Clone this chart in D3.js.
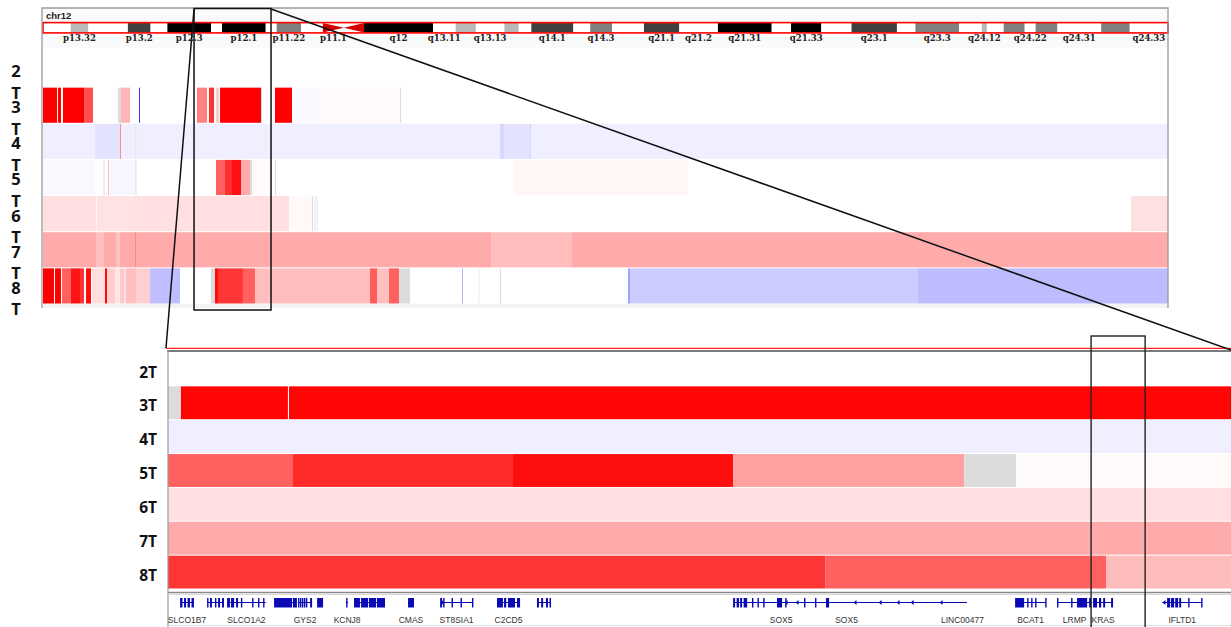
<!DOCTYPE html>
<html>
<head>
<meta charset="utf-8">
<script src="https://cdn.jsdelivr.net/npm/d3@7"></script>
<style>
  html, body { margin: 0; padding: 0; background: #ffffff; }
  svg { display: block; }
</style>
</head>
<body>
<svg id="chart" width="1231" height="627"></svg>
<script>
// ---- samples ----
const samples = ["2T", "3T", "4T", "5T", "6T", "7T", "8T"];

// ---- chromosome 12 cytobands (Mb) ----
const chromName = "chr12";
const chromLength = 133.85;
const bandNames  = ["p13.33","p13.32","p13.31","p13.2","p13.1","p12.3","p12.2","p12.1","p11.23","p11.22","p11.21","p11.1","q11","q12","q13.11","q13.12","q13.13","q13.2","q13.3","q14.1","q14.2","q14.3","q15","q21.1","q21.2","q21.31","q21.32","q21.33","q22","q23.1","q23.2","q23.3","q24.11","q24.12","q24.13","q24.21","q24.22","q24.23","q24.31","q24.32","q24.33"];
const bandStarts = [0,3.3,5.4,10.1,12.8,14.8,20.0,21.3,26.5,27.8,30.7,33.3,35.8,38.2,46.4,49.1,51.5,54.9,56.6,58.1,63.1,65.1,67.7,71.5,75.7,80.3,86.7,89.0,92.6,96.2,101.6,103.8,109.0,111.7,112.3,114.3,116.8,118.1,120.7,125.9,129.3];
const bandStains = ["gneg","gpos25","gneg","gpos75","gneg","gpos100","gneg","gpos100","gneg","gpos50","gneg","acen","acen","gpos100","gneg","gpos25","gneg","gpos25","gneg","gpos75","gneg","gpos50","gneg","gpos75","gneg","gpos100","gneg","gpos100","gneg","gpos75","gneg","gpos50","gneg","gpos25","gneg","gpos50","gneg","gpos50","gneg","gpos50","gneg"];
const bandLabelsShown = ["p13.32","p13.2","p12.3","p12.1","p11.22","p11.1","q12","q13.11","q13.13","q14.1","q14.3","q21.1","q21.2","q21.31","q21.33","q23.1","q23.3","q24.12","q24.22","q24.31","q24.33"];

// ---- copy-number segments, whole chromosome: [startMb, endMb, log2 ratio] (null = no call) ----
const chrSeg2T = [];
const chrSeg3T = [[0,1.67,1.0],[1.78,2.14,1.0],[2.38,4.88,1.0],[4.88,5.95,0.69],[8.92,9.28,null],[9.28,10.35,0.29],[11.42,11.54,-0.8],[18.32,19.51,0.5],[19.75,20.35,0.81],[20.58,20.94,0.2],[21.06,25.94,1.0],[25.94,26.06,null],[27.60,29.63,1.0],[29.63,32.96,-0.025],[32.96,42.48,0.015],[42.48,42.59,null]];
const chrSeg4T = [[0,6.19,-0.063],[6.19,9.16,-0.11],[9.16,9.28,0.45],[9.28,11.0,-0.063],[11.0,11.12,null],[11.12,54.37,-0.063],[54.37,54.85,-0.16],[54.85,57.94,-0.11],[57.94,58.06,-0.17],[58.06,133.85,-0.063]];
const chrSeg5T = [[0,6.19,-0.025],[7.14,7.38,-0.08],[7.73,7.85,0.3],[7.97,11.0,-0.035],[11.0,11.12,null],[20.58,21.65,0.62],[21.65,22.49,0.81],[22.49,23.56,0.94],[23.56,24.63,0.33],[24.63,24.87,null],[24.87,27.01,0.02],[27.60,27.72,null],[56.04,76.74,0.035]];
const chrSeg6T = [[0,6.31,0.125],[6.31,6.42,0.04],[6.42,11.0,0.115],[11.0,11.12,null],[11.12,29.27,0.125],[29.27,32.0,0.025],[32.0,32.12,null],[32.24,32.72,-0.05],[129.45,133.85,0.12]];
const chrSeg7T = [[0,6.31,0.33],[6.31,7.26,0.25],[7.26,8.69,0.33],[8.69,9.16,0.24],[9.16,10.95,0.33],[10.95,11.06,0.5],[11.06,53.30,0.33],[53.30,62.94,0.26],[62.94,133.85,0.33]];
const chrSeg8T = [[0,1.31,1.0],[1.43,2.14,1.0],[2.26,3.33,0.62],[3.33,4.40,0.92],[4.40,4.88,0.8],[5.12,5.71,0.95],[5.83,7.38,0.12],[7.38,7.61,1.0],[7.61,8.57,0.19],[8.57,9.16,0.1],[9.16,9.64,0.22],[9.64,9.88,0.12],[9.88,11.06,0.25],[11.06,12.73,0.19],[12.73,16.30,-0.25],[19.99,20.46,null],[20.46,20.82,0.95],[20.82,23.79,0.79],[23.79,25.22,0.62],[25.22,38.91,0.26],[38.91,39.74,0.64],[39.74,41.17,0.25],[41.17,42.36,0.62],[42.36,43.66,null],[49.85,49.97,-0.3],[51.75,51.99,0.05],[54.37,54.49,null],[69.60,69.84,-0.37],[69.84,104.10,-0.2],[104.10,133.85,-0.263]];

// ---- copy-number segments, zoomed locus (Mb) ----
const zoomRange = [21.115, 25.955];
const zoomSeg2T = [];
const zoomSeg3T = [[21.115,21.174,null],[21.174,21.661,0.98],[21.666,25.955,0.98]];
const zoomSeg4T = [[21.115,25.955,-0.063]];
const zoomSeg5T = [[21.115,21.684,0.62],[21.684,22.682,0.835],[22.682,23.688,0.945],[23.688,24.740,0.37],[24.740,24.977,null],[24.977,25.955,0.02]];
const zoomSeg6T = [[21.115,25.955,0.125]];
const zoomSeg7T = [[21.115,25.955,0.33]];
const zoomSeg8T = [[21.115,24.107,0.79],[24.107,25.386,0.62],[25.386,25.955,0.263]];

// ---- regions of interest (Mb) ----
const roiChrom = [17.97, 27.13];
const roiKras  = [25.318, 25.564];

// ---- RefSeq genes in the zoomed locus (Mb) ----
const geneNames  = ["SLCO1B7","SLCO1B1","SLCO1A2","RECQL","GYS2","LDHB","KCNJ8","ABCC9","CMAS","ST8SIA1","C2CD5","ETNK1","SOX5","SOX5","LINC00477","BCAT1","LRMP","KRAS","IFLTD1"];
const geneLabelled = [true,false,true,false,true,false,true,false,true,true,true,false,true,true,true,true,true,true,true];
const geneStarts = [21.170,21.293,21.384,21.598,21.707,21.794,21.926,21.962,22.208,22.354,22.613,22.795,23.688,23.697,24.712,24.972,25.163,25.327,25.642];
const geneEnds   = [21.233,21.370,21.560,21.702,21.771,21.821,21.935,22.103,22.235,22.504,22.718,22.859,24.125,24.712,24.753,25.113,25.323,25.418,25.824];
const geneExons  = [
  [[21.170,21.181],[21.188,21.197],[21.204,21.215],[21.222,21.233]],
  [[21.293,21.297],[21.306,21.315],[21.329,21.334],[21.343,21.352],[21.361,21.370]],
  [[21.384,21.397],[21.402,21.416],[21.425,21.434],[21.447,21.452],[21.498,21.502],[21.525,21.529],[21.548,21.552]],
  [[21.598,21.680],[21.684,21.702]],
  [[21.707,21.712],[21.716,21.722],[21.725,21.730],[21.734,21.739],[21.743,21.748],[21.762,21.771]],
  [[21.794,21.821]],
  [[21.926,21.932]],
  [[21.962,21.989],[21.994,22.026],[22.030,22.062],[22.066,22.103]],
  [[22.208,22.235]],
  [[22.354,22.363],[22.368,22.372],[22.406,22.410],[22.447,22.451],[22.499,22.504]],
  [[22.613,22.640],[22.645,22.655],[22.663,22.695],[22.704,22.718]],
  [[22.795,22.804],[22.814,22.823],[22.836,22.845],[22.852,22.859]],
  [[23.688,23.697],[23.704,23.715],[23.720,23.729],[23.736,23.752],[23.774,23.779],[23.799,23.804],[23.825,23.829],[23.888,23.911],[23.925,23.929],[24.011,24.015],[24.061,24.066],[24.111,24.125]],
  [],
  [],
  [[24.972,25.013],[25.027,25.031],[25.045,25.049],[25.063,25.067],[25.109,25.113]],
  [[25.163,25.168],[25.227,25.232],[25.254,25.300],[25.309,25.318]],
  [[25.327,25.345],[25.354,25.364],[25.373,25.382],[25.409,25.418]],
  [[25.664,25.678],[25.682,25.696],[25.701,25.714],[25.719,25.728],[25.760,25.765],[25.819,25.824]]
];
// strand arrowheads on intron lines (minus-strand genes)
const geneArrows = [[],[],[],[],[],[],[],[],[],[22.362],[],[],[23.979,23.929],[24.243,24.357,24.439,24.503,24.635],[],[24.985],[],[],[25.650]];

// ---------------------------------------------------------------
const svg = d3.select("#chart");
const chrSegs  = { "2T": chrSeg2T, "3T": chrSeg3T, "4T": chrSeg4T, "5T": chrSeg5T, "6T": chrSeg6T, "7T": chrSeg7T, "8T": chrSeg8T };
const zoomSegs = { "2T": zoomSeg2T, "3T": zoomSeg3T, "4T": zoomSeg4T, "5T": zoomSeg5T, "6T": zoomSeg6T, "7T": zoomSeg7T, "8T": zoomSeg8T };

// log2 ratio -> blue / white / red
const cnColor = d3.scaleLinear().domain([-1, 0, 1]).range(["#0000ff", "#ffffff", "#ff0000"]).clamp(true);
const naColor = "#dcdcdc";
const fillFor = v => (v === null ? naColor : cnColor(v));
const stainColor = { gneg: "#ffffff", gpos25: "#b9b9b9", gpos50: "#808080", gpos75: "#404040", gpos100: "#000000" };

const xChr  = d3.scaleLinear().domain([0, chromLength]).range([43, 1168]);
const xZoom = d3.scaleLinear().domain(zoomRange).range([168, 1231]);
const yChr  = d3.scaleBand().domain(samples).range([51, 304]);
const yZoom = d3.scaleBand().domain(samples).range([352, 589]);

// ================= whole-chromosome panel =================
const chrPanel = svg.append("g");
chrPanel.append("rect").attr("x", 42).attr("y", 8).attr("width", 1126).attr("height", 40).attr("fill", "#fafafa");
chrPanel.append("rect").attr("x", 43).attr("y", 304).attr("width", 1125).attr("height", 4).attr("fill", "#f3f3f3");
chrPanel.append("text").attr("x", 46).attr("y", 19)
  .attr("font-family", "Liberation Sans, Arial, sans-serif").attr("font-weight", "bold").attr("font-size", 9.5)
  .attr("fill", "#222").text(chromName);

// ideogram
const bands = bandNames.map((n, i) => ({ name: n, start: bandStarts[i], end: i + 1 < bandStarts.length ? bandStarts[i + 1] : chromLength, stain: bandStains[i] }));
const ideo = chrPanel.append("g");
ideo.selectAll("rect.band").data(bands.filter(b => b.stain !== "acen")).join("rect")
  .attr("class", "band")
  .attr("x", d => xChr(d.start)).attr("width", d => xChr(d.end) - xChr(d.start))
  .attr("y", 23).attr("height", 9.5)
  .attr("fill", d => stainColor[d.stain]);
const acen = bands.filter(b => b.stain === "acen");
ideo.selectAll("path.acen").data(acen).join("path")
  .attr("class", "acen")
  .attr("fill", "#d40000")
  .attr("d", (d, i) => {
    const x0 = xChr(d.start), x1 = xChr(d.end), ym = 27.75;
    return i === 0
      ? `M${x0},23L${x1},${ym}L${x0},32.5Z`
      : `M${x1},23L${x0},${ym}L${x1},32.5Z`;
  });
ideo.append("rect").attr("x", xChr(0)).attr("y", 22.6).attr("width", xChr(chromLength) - xChr(0)).attr("height", 10.3)
  .attr("fill", "none").attr("stroke", "#ff0000").attr("stroke-width", 1.6);
ideo.selectAll("text.bandlab").data(bands.filter(b => bandLabelsShown.includes(b.name))).join("text")
  .attr("class", "bandlab")
  .attr("x", d => xChr((d.start + d.end) / 2)).attr("y", 40.5)
  .attr("text-anchor", "middle")
  .attr("font-family", "DejaVu Serif, serif").attr("font-weight", "bold").attr("font-size", 8.6)
  .attr("fill", "#222")
  .text(d => d.name);

// heatmap rows
samples.forEach(s => {
  chrPanel.append("g").selectAll("rect").data(chrSegs[s]).join("rect")
    .attr("x", d => xChr(d[0]))
    .attr("width", d => Math.max(1, xChr(d[1]) - xChr(d[0])))
    .attr("y", yChr(s) + 0.5).attr("height", yChr.bandwidth() - 1)
    .attr("fill", d => fillFor(d[2]));
});

// sample names wrapped onto two lines, set as one narrow label column
const nameCol = chrPanel.append("text")
  .attr("text-anchor", "middle")
  .attr("font-family", "Open Sans, Liberation Sans, sans-serif").attr("font-weight", "bold").attr("font-size", 16.5)
  .attr("fill", "#111");
samples.forEach(s => {
  nameCol.append("tspan").attr("x", 16).attr("y", yChr(s) + 26).text(s.slice(0, -1));
  nameCol.append("tspan").attr("x", 16).attr("y", yChr(s) + 47.5).text(s.slice(-1));
});

// panel frame
chrPanel.append("path").attr("d", "M42,308V8H1168V308").attr("fill", "none").attr("stroke", "#9a9a9a").attr("stroke-width", 1.3);

// ================= zoomed locus panel =================
const locusPanel = svg.append("g");
samples.forEach(s => {
  locusPanel.append("g").selectAll("rect").data(zoomSegs[s]).join("rect")
    .attr("x", d => xZoom(d[0]))
    .attr("width", d => Math.max(1, xZoom(d[1]) - xZoom(d[0])))
    .attr("y", yZoom(s) + 0.5).attr("height", yZoom.bandwidth() - 1)
    .attr("fill", d => fillFor(d[2]));
});
locusPanel.selectAll("text.slab").data(samples).join("text")
  .attr("class", "slab")
  .attr("x", 157).attr("y", d => yZoom(d) + 25.5)
  .attr("text-anchor", "end")
  .attr("font-family", "Open Sans, Liberation Sans, sans-serif").attr("font-weight", "bold").attr("font-size", 15.5)
  .attr("fill", "#111")
  .text(d => d);

locusPanel.append("line").attr("x1", 166).attr("x2", 1231).attr("y1", 348.3).attr("y2", 348.3).attr("stroke", "#ff2020").attr("stroke-width", 1.3);
locusPanel.append("line").attr("x1", 167).attr("x2", 1231).attr("y1", 351).attr("y2", 351).attr("stroke", "#7a7a7a").attr("stroke-width", 2);
locusPanel.append("line").attr("x1", 168).attr("x2", 168).attr("y1", 350).attr("y2", 627).attr("stroke", "#9a9a9a").attr("stroke-width", 1.2);
locusPanel.append("line").attr("x1", 168).attr("x2", 1231).attr("y1", 592.5).attr("y2", 592.5).attr("stroke", "#8a8a8a").attr("stroke-width", 1.5);
locusPanel.append("line").attr("x1", 168).attr("x2", 1231).attr("y1", 594.5).attr("y2", 594.5).attr("stroke", "#d8d8d8").attr("stroke-width", 1);
locusPanel.append("line").attr("x1", 168).attr("x2", 1231).attr("y1", 625.5).attr("y2", 625.5).attr("stroke", "#dddddd").attr("stroke-width", 1);

// gene track
const genes = geneNames.map((n, i) => ({ name: n, start: geneStarts[i], end: geneEnds[i], exons: geneExons[i], arrows: geneArrows[i], labelled: geneLabelled[i] }));
const geneBlue = "#0a0ab4";
const gG = locusPanel.append("g");
const geneG = gG.selectAll("g.gene").data(genes).join("g").attr("class", "gene");
geneG.append("line")
  .attr("x1", d => xZoom(d.start)).attr("x2", d => xZoom(d.end))
  .attr("y1", 602.5).attr("y2", 602.5)
  .attr("stroke", geneBlue).attr("stroke-width", 1);
geneG.each(function (d) {
  const g = d3.select(this);
  g.selectAll("rect").data(d.exons).join("rect")
    .attr("x", e => xZoom(e[0]))
    .attr("width", e => Math.max(1.4, xZoom(e[1]) - xZoom(e[0])))
    .attr("y", 598).attr("height", 9.5)
    .attr("fill", geneBlue);
  g.selectAll("path").data(d.arrows).join("path")
    .attr("d", a => { const x = xZoom(a); return `M${x - 1.5},602.5L${x + 1.5},600L${x + 1.5},605Z`; })
    .attr("fill", geneBlue);
});
gG.selectAll("text.glab").data(genes.filter(d => d.labelled)).join("text")
  .attr("class", "glab")
  .attr("x", d => xZoom((d.start + d.end) / 2)).attr("y", 622.5)
  .attr("text-anchor", "middle")
  .attr("font-family", "Liberation Sans, Arial, sans-serif").attr("font-size", 8.5)
  .attr("fill", "#333")
  .text(d => d.name);

// ================= region outlines and connector lines =================
const ann = svg.append("g").attr("fill", "none").attr("stroke", "#111").attr("stroke-width", 1.5);
const rx0 = xChr(roiChrom[0]), rx1 = xChr(roiChrom[1]);
ann.append("rect").attr("x", rx0).attr("y", 8.5).attr("width", rx1 - rx0).attr("height", 301.5);
ann.append("line").attr("x1", rx0).attr("y1", 9).attr("x2", 166).attr("y2", 348);
ann.append("line").attr("x1", rx1).attr("y1", 9).attr("x2", 1231).attr("y2", 350);
const kx0 = xZoom(roiKras[0]), kx1 = xZoom(roiKras[1]);
ann.append("rect").attr("x", kx0).attr("y", 336).attr("width", kx1 - kx0).attr("height", 300).attr("stroke-width", 1.4).attr("stroke", "#222");
</script>
</body>
</html>
